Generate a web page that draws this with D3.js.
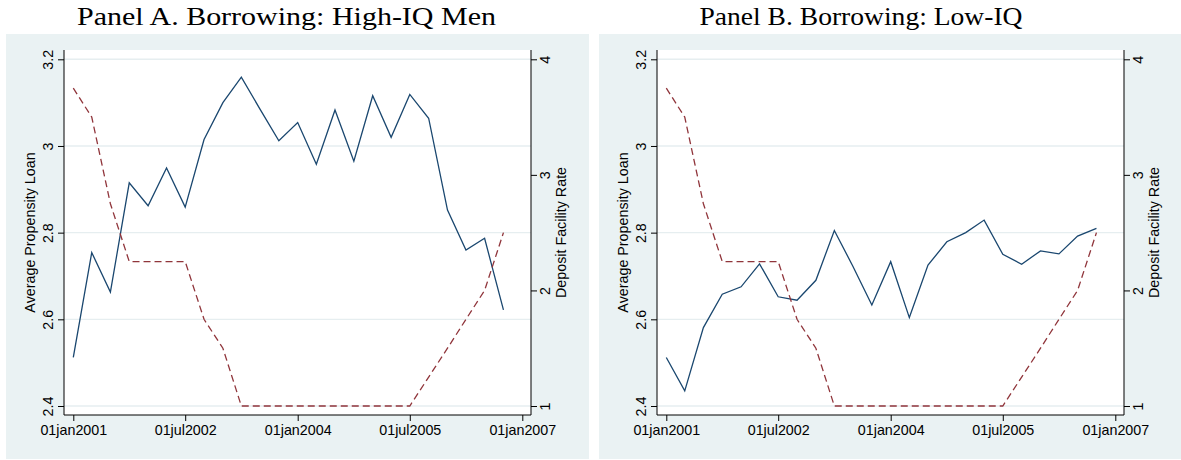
<!DOCTYPE html>
<html>
<head>
<meta charset="utf-8">
<script src="https://cdn.jsdelivr.net/npm/d3@7"></script>
<style>
  body { margin: 0; background: #fff; }
</style>
</head>
<body>
<div id="chart"></div>
<script>
// quarterly observations, 2001q1 .. 2006q4
const quarters = d3.range(24).map(i => new Date(Date.UTC(2001 + Math.floor(i / 4), (i % 4) * 3, 1)));

// ECB deposit facility rate (right axis), same in both panels
const depositRate = [3.75, 3.5, 2.75, 2.25, 2.25, 2.25, 2.25, 1.75, 1.5, 1.0, 1.0, 1.0,
                     1.0, 1.0, 1.0, 1.0, 1.0, 1.0, 1.0, 1.25, 1.5, 1.75, 2.0, 2.5];

// average propensity loan (left axis)
const loanHighIQ = [2.512, 2.754, 2.663, 2.915, 2.862, 2.949, 2.859, 3.015, 3.100, 3.159, 3.085, 3.012,
                    3.054, 2.958, 3.083, 2.965, 3.116, 3.020, 3.119, 3.064, 2.852, 2.760, 2.787, 2.622];
const loanLowIQ = [2.512, 2.435, 2.581, 2.658, 2.675, 2.728, 2.652, 2.644, 2.690, 2.805, 2.722, 2.633,
                   2.733, 2.604, 2.725, 2.779, 2.800, 2.829, 2.750, 2.727, 2.758, 2.751, 2.792, 2.810];

const leftTicks = [2.4, 2.6, 2.8, 3.0, 3.2];
const rightTicks = [1, 2, 3, 4];
const xTickDates = [[2001, 0], [2002, 6], [2004, 0], [2005, 6], [2007, 0]].map(d => new Date(Date.UTC(d[0], d[1], 1)));
const xTickLabels = ["01jan2001", "01jul2002", "01jan2004", "01jul2005", "01jan2007"];

const panelTitles = ["Panel A. Borrowing: High-IQ Men", "Panel B. Borrowing: Low-IQ"];

const width = 1181, height = 460;
const sans = "'Liberation Sans', Arial, Helvetica, sans-serif";
const blue = "#1a476f", maroon = "#90353b";

const svg = d3.select("#chart").append("svg")
    .attr("width", width)
    .attr("height", height);

function drawPanel(px, title, titleX, titleLen, loan) {
    const g = svg.append("g").attr("transform", `translate(${px},0)`);

    // graph region
    g.append("rect")
        .attr("x", 0).attr("y", 34)
        .attr("width", 583).attr("height", 425)
        .attr("fill", "#eaf2f3");

    const plotL = 58, plotR = 525, plotT = 50, plotB = 415;
    g.append("rect")
        .attr("x", plotL).attr("y", plotT)
        .attr("width", plotR - plotL).attr("height", plotB - plotT)
        .attr("fill", "#fff");

    const x = d3.scaleUtc()
        .domain([xTickDates[0], xTickDates[4]])
        .range([67.3, 516.3]);
    const yL = d3.scaleLinear().domain([2.4, 3.2]).range([406, 59.3]);
    const yR = d3.scaleLinear().domain([1, 4]).range([406, 59.3]);

    // grid
    g.append("g").selectAll("line")
        .data(leftTicks)
        .join("line")
        .attr("x1", plotL).attr("x2", plotR)
        .attr("y1", d => yL(d)).attr("y2", d => yL(d))
        .attr("stroke", "#e6eef0")
        .attr("stroke-width", 1.4);

    // left axis
    const ax = g.append("g").attr("transform", `translate(${plotL},0)`)
        .call(d3.axisLeft(yL).tickValues(leftTicks).tickSize(6)
            .tickFormat(d => d === 3 ? "3" : d3.format(".1f")(d)));
    ax.select(".domain").attr("d", `M0,${plotT}V${plotB}`);
    ax.selectAll(".tick text")
        .attr("transform", "translate(-11,0) rotate(-90)")
        .attr("x", 0).attr("y", 0).attr("dy", 0)
        .style("text-anchor", "middle");

    // right axis
    const ar = g.append("g").attr("transform", `translate(${plotR},0)`)
        .call(d3.axisRight(yR).tickValues(rightTicks).tickSize(6).tickFormat(d3.format("d")));
    ar.select(".domain").attr("d", `M0,${plotT}V${plotB}`);
    ar.selectAll(".tick text")
        .attr("transform", "translate(19,0) rotate(-90)")
        .attr("x", 0).attr("y", 0).attr("dy", 0)
        .style("text-anchor", "middle");

    // bottom axis
    const axb = g.append("g").attr("transform", `translate(0,${plotB})`)
        .call(d3.axisBottom(x).tickValues(xTickDates).tickSize(6).tickPadding(4)
            .tickFormat((d, i) => xTickLabels[i]));
    axb.select(".domain").attr("d", `M${plotL},0H${plotR}`);

    g.selectAll(".tick text").attr("font-family", sans).attr("font-size", 14.3).attr("fill", "#000");
    g.selectAll(".domain, .tick line").attr("stroke", "#000").attr("stroke-width", 1);

    // axis titles
    g.append("text")
        .attr("transform", `translate(29,${(plotT + plotB) / 2}) rotate(-90)`)
        .attr("text-anchor", "middle")
        .attr("font-family", sans).attr("font-size", 14.3)
        .text("Average Propensity Loan");
    g.append("text")
        .attr("transform", `translate(560,${(plotT + plotB) / 2}) rotate(-90)`)
        .attr("text-anchor", "middle")
        .attr("font-family", sans).attr("font-size", 14.3)
        .text("Deposit Facility Rate");

    // lines
    const loanLine = d3.line().x((d, i) => x(quarters[i])).y(d => yL(d));
    const rateLine = d3.line().x((d, i) => x(quarters[i])).y(d => yR(d));

    g.append("path")
        .datum(loan)
        .attr("d", loanLine)
        .attr("fill", "none")
        .attr("stroke", blue)
        .attr("stroke-width", 1.3);

    g.append("path")
        .datum(depositRate)
        .attr("d", rateLine)
        .attr("fill", "none")
        .attr("stroke", maroon)
        .attr("stroke-width", 1.3)
        .attr("stroke-dasharray", "7,4");

    // title
    g.append("text")
        .attr("x", titleX).attr("y", 25)
        .attr("text-anchor", "middle")
        .attr("font-family", "'Liberation Serif', 'Times New Roman', serif")
        .attr("font-size", 26)
        .attr("textLength", titleLen)
        .attr("lengthAdjust", "spacingAndGlyphs")
        .text(title);
}

drawPanel(6, panelTitles[0], 280.5, 419, loanHighIQ);
drawPanel(599, panelTitles[1], 262, 323, loanLowIQ);
</script>
</body>
</html>
